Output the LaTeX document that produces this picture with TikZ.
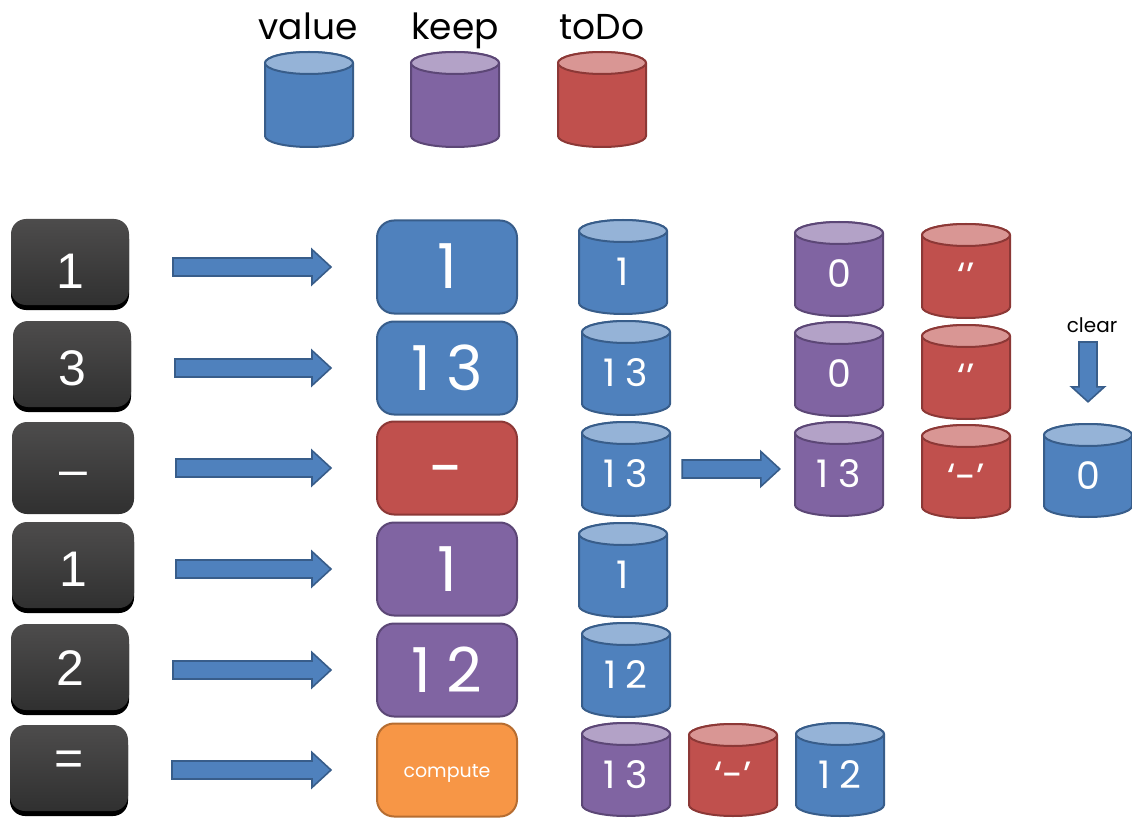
\documentclass[tikz,border=0pt]{standalone}
\usepackage{fontspec}
\setmainfont{Poppins}
\newfontfamily\keyfont{Liberation Sans}
\newfontfamily\numfont[LetterSpace=25]{Poppins}
\usetikzlibrary{
  calc,     % let ... in, ($...$)
  shadows,  % drop shadow under the keys
}
\definecolor{bluebody}{HTML}{4F81BD}
\definecolor{bluetop}{HTML}{95B3D7}
\definecolor{blueline}{HTML}{385D8A}
\definecolor{purplebody}{HTML}{8064A2}
\definecolor{purpletop}{HTML}{B3A2C7}
\definecolor{purpleline}{HTML}{5C4776}
\definecolor{redbody}{HTML}{C0504D}
\definecolor{redtop}{HTML}{D99694}
\definecolor{redline}{HTML}{8C3836}
\definecolor{orangebody}{HTML}{F79646}
\definecolor{orangeline}{HTML}{B66D31}
\definecolor{keytop}{HTML}{4D4C4C}
\definecolor{keybot}{HTML}{303030}
% drum: name, centre x, top, bottom, colour, text
\newcommand{\drum}[6]{%
  \filldraw[drum line, draw=#5line, fill=#5body]
    (#2-44,#3+11) -- (#2-44,#4-11)
    arc[start angle=180, end angle=0, x radius=44, y radius=11]
    -- (#2+44,#3+11)
    arc[start angle=0, end angle=-180, x radius=44, y radius=11] -- cycle;
  \filldraw[drum line, draw=#5line, fill=#5top]
    (#2,#3+11) ellipse[x radius=44, y radius=11];
  \node[drum, minimum height=#4-#3] (#1) at (#2,{(#3+#4)/2}) {#6};
}
% fat arrow pointing right, from #1 to #2
\newcommand{\blockarrow}[2]{%
  \draw[fat arrow] let \p1=#1, \p2=#2 in
    (\x1,\y2+9pt) -- (\x2-19pt,\y2+9pt) -- (\x2-19pt,\y2+17.5pt)
    -- (\x2,\y2) -- (\x2-19pt,\y2-17.5pt) -- (\x2-19pt,\y2-9pt)
    -- (\x1,\y2-9pt) -- cycle;
}
% fat arrow pointing down, from #1 to #2
\newcommand{\droparrow}[2]{%
  \draw[fat arrow] let \p1=#1, \p2=#2 in
    (\x2-9pt,\y1) -- (\x2-9pt,\y2+15pt) -- (\x2-16.5pt,\y2+15pt)
    -- (\x2,\y2) -- (\x2+16.5pt,\y2+15pt) -- (\x2+9pt,\y2+15pt)
    -- (\x2+9pt,\y1) -- cycle;
}
\tikzset{
  legend/.style={
    anchor=base,
    font=\fontsize{36}{40}\selectfont
  },
  note/.style={
    font=\fontsize{20}{24}\selectfont
  },
  btn/.style={
    rounded corners=15pt,
    minimum width=118pt,
    minimum height=86pt,
    inner sep=0pt,
    top color=keytop,
    bottom color=keybot,
    text=white,
    text height=42pt,
    text depth=0pt,
    font=\keyfont\fontsize{50}{52}\selectfont
  },
  btn shadow/.style={
    drop shadow={shadow xshift=0pt, shadow yshift=-5pt, fill=black, opacity=1}
  },
  shown/.style={
    rounded corners=17pt,
    minimum width=140pt,
    minimum height=93pt,
    inner sep=0pt,
    line width=2pt,
    fill=#1body,
    draw=#1line,
    text=white,
    text height=44pt,
    text depth=0pt,
    font=\numfont\fontsize{62}{64}\selectfont
  },
  drum/.style={
    minimum width=88pt,
    inner sep=0pt,
    text=white,
    text height=37pt,
    text depth=0pt,
    font=\numfont\fontsize{38}{40}\selectfont
  },
  drum line/.style={line width=2pt},
  fat arrow/.style={
    fill=bluebody,
    draw=blueline,
    line width=1.6pt,
    line join=miter
  }
}
\begin{document}
\begin{tikzpicture}[x=1pt,y=-1pt]
\useasboundingbox (0,0) rectangle (1132,818);
% legend
\node[legend] (tvalue) at (308,40) {value};
\node[legend] (tkeep)  at (455,40) {keep};
\node[legend] (ttodo)  at (602,40) {toDo};
\drum{lvalue}{309}{52}{147}{blue}{}
\drum{lkeep}{455}{52}{147}{purple}{}
\drum{ltodo}{602}{52}{147}{red}{}
% keys pressed
\node[btn, btn shadow, text height=52pt] (btn1) at (70,262) {1};
\node[btn, btn shadow] (btn2) at (72,364) {3};
\node[btn, minimum width=122pt, minimum height=92pt, text height=36pt]
                       (btn3) at (73,468) {–};
\node[btn, btn shadow, minimum width=122pt] (btn4) at (73,565) {1};
\node[btn, btn shadow, text height=36pt] (btn5) at (70,667) {2};
\node[btn, btn shadow, text height=14pt] (btn6) at (69,768) {=};
% what the display takes
\node[shown=blue]   (shown1) at (447,267) {1};
\node[shown=blue]   (shown2) at (447,368) {13};
\node[shown=red]    (shown3) at (447,468) {\rmfamily -};
\node[shown=purple] (shown4) at (447,569) {1};
\node[shown=purple] (shown5) at (447,670) {12};
\node[shown=orange, text height=14pt, font=\fontsize{19}{22}\selectfont]
                    (shown6) at (447,770) {compute};
\foreach \i in {1,...,6}
  \blockarrow{($(btn\i.center)+(103,0)$)}{($(shown\i.west)+(-45,0)$)};
% stored values
\drum{val1}{623}{220}{314}{blue}{1}
\drum{kp1}{839}{222}{316}{purple}{0}
\drum{todo1}{966}{224}{318}{red}{\rmfamily ‘’}
\drum{val2}{626}{321}{415}{blue}{13}
\drum{kp2}{839}{322}{416}{purple}{0}
\drum{todo2}{966}{325}{419}{red}{\rmfamily ‘’}
\drum{val3}{626}{422}{516}{blue}{13}
\drum{kp3}{839}{422}{516}{purple}{13}
\drum{todo3}{966}{425}{518}{red}{\rmfamily ‘-’}
\drum{cleared}{1088}{424}{517}{blue}{0}
\drum{val4}{623}{523}{617}{blue}{1}
\drum{val5}{626}{623}{717}{blue}{12}
\drum{kp6}{626}{723}{816}{purple}{13}
\drum{todo6}{733}{724}{816}{red}{\rmfamily ‘-’}
\drum{val6}{840}{723}{816}{blue}{12}
\blockarrow{($(val3.east)+(12,0)$)}{($(kp3.west)+(-15,0)$)}
\node[note] (clear) at (1092,325) {clear};
\droparrow{($(clear.south)+(0,6)$)}{($(cleared.north)+(0,-22)$)}
\end{tikzpicture}
\end{document}
